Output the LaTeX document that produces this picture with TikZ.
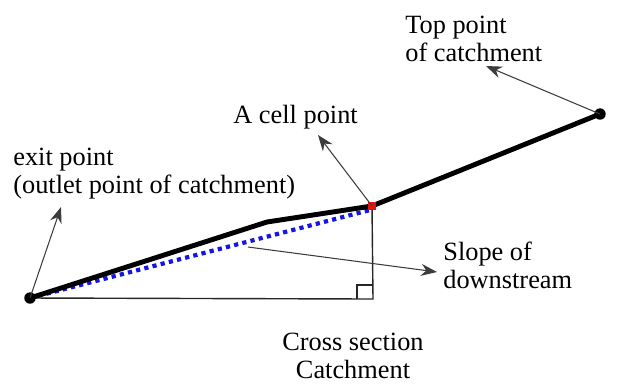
\documentclass[tikz,border=0pt]{standalone}
\usepackage{fontspec}
\setmainfont{Liberation Serif}
\usepackage{tikz}
\usetikzlibrary{arrows.meta,positioning,calc}
\definecolor{lblgray}{RGB}{60,60,60}
\definecolor{dotblue}{RGB}{20,20,230}
\definecolor{cellred}{RGB}{225,20,20}
\tikzset{
  lbl/.style={font=\fontsize{15}{15.6}\selectfont, inner sep=0pt, align=left},
  lblarr/.style={-{Stealth[length=3.2mm,width=2.4mm]}, lblgray, line width=0.6pt},
  terrain/.style={black, line width=2.8pt, line join=round},
  slopeln/.style={dotblue, line width=2.4pt, dash pattern=on 2.4pt off 2.4pt},
  thinln/.style={black!85, line width=0.8pt},
  dotpt/.style={circle, fill=black, inner sep=0pt, minimum size=6.5pt},
}
\begin{document}
\begin{tikzpicture}[x=0.02cm, y=-0.02cm]
  \useasboundingbox (0,0) rectangle (621,387);
  % profile points
  \coordinate (exit) at (30,298);
  \coordinate (bend) at (267,222);
  \coordinate (cell) at (372,206);
  \coordinate (top) at (600,114);
  \coordinate (foot) at (373,299);
  % cross section
  \draw[thinln] (exit) -- (foot) -- (cell);
  \draw[thinln] ($(foot)+(-16,0)$) -- ++(0,-14) -- ++(16,0);
  \draw[slopeln] (exit) -- ($(cell)+(-2,4)$);
  \draw[terrain] (exit) -- (bend) -- (cell) -- (top);
  \node[dotpt] (exitdot) at (exit) {};
  \node[dotpt] (topdot) at (top) {};
  \node[fill=cellred, inner sep=0pt, minimum size=5pt] (celldot) at (cell) {};
  % labels
  \node[lbl, anchor=base west] (toplbl) at (405,61) {Top point\\of catchment};
  \node[lbl, anchor=base west] (celllbl) at (233,123) {A cell point};
  \node[lbl, anchor=base west] (exitlbl) at (13,193) {exit point\\(outlet point of catchment)};
  \node[lbl, anchor=base west] (slopelbl) at (443,288) {Slope of\\downstream};
  \node[lbl, anchor=base, align=center] (crosslbl) at (353,378) {Cross section\\Catchment};
  % pointers
  \coordinate (toptip) at (486,66);
  \coordinate (celltip) at (318,135);
  \coordinate (exittip) at (61,207);
  \coordinate (slopefrom) at (248,247);
  \coordinate (slopetip) at (437,272);
  \draw[lblarr] (topdot.center) -- (toptip);
  \draw[lblarr] (celldot.center) -- (celltip);
  \draw[lblarr] (exitdot.center) -- (exittip);
  \draw[lblarr] (slopefrom) -- (slopetip);
\end{tikzpicture}
\end{document}
